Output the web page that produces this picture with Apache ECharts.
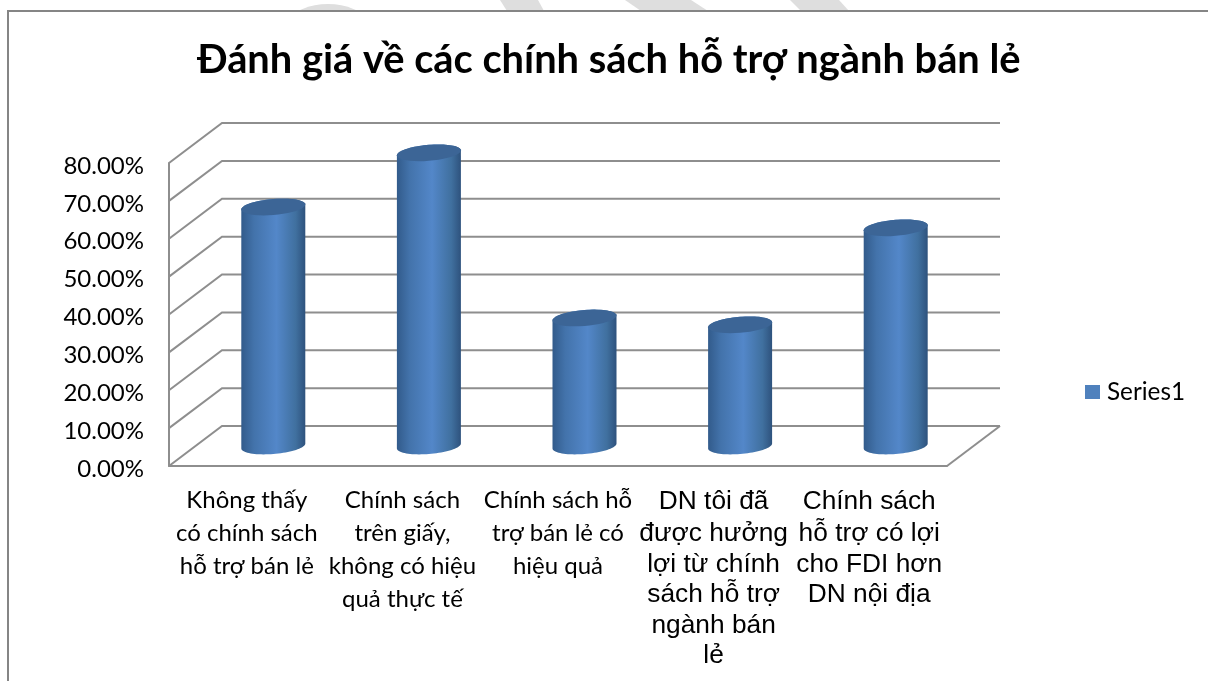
<!DOCTYPE html>
<html>
<head>
<meta charset="utf-8">
<style>
  html, body { margin: 0; padding: 0; background: #fff; }
  #chart { width: 1208px; height: 681px; }
</style>
<script src="https://cdn.jsdelivr.net/npm/echarts@6/dist/echarts.min.js"></script>
</head>
<body>
<div id="chart"></div>
<script>
const categories = [
  'Không thấy\ncó chính sách\nhỗ trợ bán lẻ',
  'Chính sách\ntrên giấy,\nkhông có hiệu\nquả thực tế',
  'Chính sách hỗ\ntrợ bán lẻ có\nhiệu quả',
  'DN tôi đã\nđược hưởng\nlợi từ chính\nsách hỗ trợ\nngành bán\nlẻ',
  'Chính sách\nhỗ trợ có lợi\ncho FDI hơn\nDN nội địa'
]
const values = [63.1, 77.4, 33.8, 32, 57.6]
const yTicks = [0, 10, 20, 30, 40, 50, 60, 70, 80]

const gridColor = '#8e8e8e'
// độ lệch giả 3D của tường sau so với mặt trước
const depthX = 53
const depthY = -40

// viền elip hơi nghiêng của hình trụ
function arc(cx, cy, from, to) {
  const a = 32
  const b = 8
  const k = 2.5
  const pts = []
  for (let i = 0; i <= 40; i++) {
    const t = from + ((to - from) * i) / 40
    pts.push([cx + a * Math.cos(t), cy + b * Math.sin(t) - k * Math.cos(t)])
  }
  return pts
}

function renderWall(params, api) {
  const g = params.coordSys
  const y = api.coord([0, api.value(1)])[1]
  const style = { stroke: gridColor, lineWidth: 2, fill: null }
  const right = g.x + g.width
  const pts = [[g.x, y], [g.x + depthX, y + depthY], [right + depthX, y + depthY]]
  const children = [{ type: 'polyline', shape: { points: pts }, style }]
  if (api.value(1) === 0) {
    children.push({
      type: 'line',
      shape: { x1: right, y1: y, x2: right + depthX, y2: y + depthY },
      style
    })
  }
  return { type: 'group', children }
}

function renderCylinder(params, api) {
  const top = api.coord([api.value(0), api.value(1)])
  const base = api.coord([api.value(0), 0])
  const cx = top[0] + depthX / 2
  const topY = top[1] + depthY / 2
  const baseY = base[1] + depthY / 2
  const body = arc(cx, baseY, Math.PI, 0).concat(arc(cx, topY, 0, -Math.PI))
  return {
    type: 'group',
    children: [
      {
        type: 'polygon',
        shape: { points: body },
        style: {
          fill: {
            type: 'linear',
            x: 0,
            y: 0,
            x2: 1,
            y2: 0,
            colorStops: [
              { offset: 0, color: '#325b8b' },
              { offset: 0.2, color: '#4373ab' },
              { offset: 0.55, color: '#5387c9' },
              { offset: 0.85, color: '#40709f' },
              { offset: 1, color: '#2e527d' }
            ]
          }
        }
      },
      {
        type: 'polygon',
        shape: { points: arc(cx, topY, 0, Math.PI * 2) },
        style: { fill: '#3c6596' }
      }
    ]
  }
}

const chart = echarts.init(document.getElementById('chart'))
chart.setOption({
  animation: false,
  backgroundColor: '#fff',
  textStyle: { fontFamily: 'Lato' },
  title: {
    text: 'Đánh giá về các chính sách hỗ trợ ngành bán lẻ',
    left: 192,
    top: 35,
    textStyle: { fontFamily: 'Lato', fontWeight: 'bold', fontSize: 39.8, color: '#000' }
  },
  legend: {
    data: ['Series1'],
    left: 1080,
    top: 375,
    icon: 'rect',
    itemWidth: 15,
    itemHeight: 14,
    itemGap: 0,
    textStyle: { fontFamily: 'Lato', fontSize: 24.3, color: '#000', padding: [0, 0, 0, 2] }
  },
  grid: { left: 169, right: 261, top: 163, bottom: 215 },
  xAxis: {
    type: 'category',
    data: categories,
    axisLine: { lineStyle: { color: gridColor, width: 2 } },
    axisTick: { show: false },
    axisLabel: {
      interval: 0,
      margin: 18,
      hideOverlap: false,
      formatter: (value, index) => {
        const key = index < 3 ? 'cal' : 'ari'
        return value
          .split('\n')
          .map((line, i) => `{${key === 'ari' && i === 0 ? 'ariTop' : key}|${line}}`)
          .join('\n')
      },
      rich: {
        cal: { fontFamily: 'Lato', fontSize: 24, lineHeight: 33, color: '#000' },
        ari: { fontFamily: 'Liberation Sans', fontSize: 26.3, lineHeight: 30.5, color: '#000' },
        ariTop: { fontFamily: 'Liberation Sans', fontSize: 26.3, lineHeight: 34.5, color: '#000' }
      }
    }
  },
  yAxis: {
    type: 'value',
    min: 0,
    max: 80,
    interval: 10,
    axisLine: { show: true, lineStyle: { color: gridColor, width: 2 } },
    axisTick: { show: false },
    splitLine: { show: false },
    axisLabel: {
      margin: 25,
      fontFamily: 'Lato',
      fontSize: 24,
      color: '#000',
      verticalAlign: 'top',
      lineHeight: 6,
      formatter: (v) => v.toFixed(2) + '%'
    }
  },
  series: [
    {
      name: 'walls',
      type: 'custom',
      renderItem: renderWall,
      data: yTicks.map((v) => [0, v]),
      encode: { x: 0, y: 1 },
      clip: false,
      silent: true,
      z: 1
    },
    {
      name: 'Series1',
      type: 'custom',
      renderItem: renderCylinder,
      data: values.map((v, i) => [i, v]),
      encode: { x: 0, y: 1 },
      clip: false,
      itemStyle: { color: '#4f81bd' },
      z: 2
    }
  ],
  graphic: [
    // vệt watermark mờ phía trên khung
    { type: 'polygon', z: -2, shape: { points: [[500, 0], [538, 0], [544, 11], [507, 11]] }, style: { fill: '#dedede' } },
    { type: 'polygon', z: -2, shape: { points: [[625, 0], [691, 0], [708, 11], [641, 11]] }, style: { fill: '#dedede' } },
    { type: 'polygon', z: -2, shape: { points: [[790, 0], [839, 0], [849, 11], [801, 11]] }, style: { fill: '#dedede' } },
    { type: 'circle', z: -2, shape: { cx: 328, cy: 72, r: 68 }, style: { fill: '#dedede' } },
    { type: 'rect', z: -1, shape: { x: 8, y: 11, width: 1200, height: 670 }, style: { fill: '#fff' } },
    { type: 'polyline', z: 0, shape: { points: [[8, 681], [8, 11], [1208, 11]] }, style: { stroke: '#858585', lineWidth: 2, fill: null } }
  ]
})
</script>
</body>
</html>
